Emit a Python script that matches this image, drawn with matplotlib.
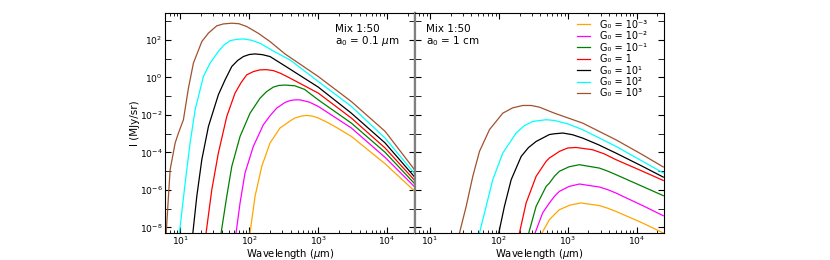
import numpy as np
import matplotlib
matplotlib.use("Agg")
import matplotlib.pyplot as plt
from matplotlib.ticker import LogLocator, NullFormatter

# values, as log10(wavelength / um) and log10(I / MJy/sr)
labels = ["G₀ = 10⁻³", "G₀ = 10⁻²", "G₀ = 10⁻¹", "G₀ = 1",
          "G₀ = 10¹", "G₀ = 10²", "G₀ = 10³"]
colors = ["orange", "magenta", "green", "red", "black", "cyan", "sienna"]

# left panel: a0 = 0.1 um
small_lam = [
    [2.01, 2.082, 2.18, 2.30, 2.445, 2.517, 2.59, 2.66, 2.75, 2.83, 2.92, 3.0, 3.12, 3.24, 3.48, 3.97, 4.39],
    [1.807, 1.865, 1.937, 2.058, 2.203, 2.30, 2.397, 2.517, 2.59, 2.66, 2.735, 2.87, 3.0, 3.48, 3.97, 4.39],
    [1.59, 1.672, 1.745, 1.865, 2.01, 2.155, 2.25, 2.348, 2.43, 2.517, 2.66, 2.80, 3.0, 3.48, 3.97, 4.39],
    [1.372, 1.455, 1.55, 1.672, 1.792, 1.88, 1.962, 2.06, 2.155, 2.25, 2.348, 2.45, 2.59, 3.0, 3.48, 3.97, 4.39],
    [1.18, 1.237, 1.31, 1.406, 1.55, 1.648, 1.745, 1.83, 1.913, 2.0, 2.082, 2.19, 2.30, 2.517, 3.0, 3.48, 3.97, 4.39],
    [0.985, 1.068, 1.14, 1.213, 1.333, 1.43, 1.55, 1.63, 1.72, 1.82, 1.913, 2.03, 2.155, 2.35, 2.59, 3.0, 3.48, 3.97, 4.39],
    [0.793, 0.85, 0.923, 0.971, 1.043, 1.116, 1.188, 1.31, 1.406, 1.527, 1.623, 1.745, 1.85, 1.962, 2.13, 2.30, 2.517, 3.0, 3.48, 3.97, 4.39],
]
small_int = [
    [-8.3, -6.35, -4.75, -3.50, -2.70, -2.52, -2.33, -2.17, -2.07, -2.03, -2.07, -2.17, -2.38, -2.62, -3.15, -4.61, -6.04],
    [-8.3, -6.70, -5.10, -3.68, -2.53, -2.05, -1.64, -1.34, -1.24, -1.20, -1.20, -1.32, -1.55, -2.70, -4.27, -5.81],
    [-8.3, -6.35, -4.75, -3.15, -1.91, -1.11, -0.76, -0.52, -0.43, -0.41, -0.45, -0.64, -1.20, -2.44, -4.00, -5.64],
    [-8.3, -5.99, -4.04, -2.09, -0.84, -0.28, 0.135, 0.31, 0.40, 0.41, 0.36, 0.22, -0.04, -0.84, -2.17, -3.77, -5.46],
    [-8.3, -6.35, -4.39, -2.62, -0.93, -0.13, 0.58, 0.90, 1.11, 1.22, 1.25, 1.21, 1.11, 0.61, -0.52, -1.91, -3.50, -5.28],
    [-8.3, -5.64, -3.50, -1.73, 0.045, 0.76, 1.38, 1.72, 1.96, 2.03, 2.05, 1.98, 1.82, 1.40, 0.93, -0.22, -1.55, -3.24, -5.10],
    [-8.3, -4.93, -3.50, -2.97, -2.26, -0.57, 0.76, 1.91, 2.36, 2.75, 2.85, 2.89, 2.86, 2.71, 2.35, 1.91, 1.25, 0.045, -1.29, -2.88, -4.89],
]

# right panel: a0 = 1 cm
big_lam = [
    [2.628, 2.735, 2.807, 2.88, 3.03, 3.19, 3.46, 3.58, 3.70, 4.087, 4.387],
    [2.527, 2.637, 2.735, 2.807, 2.88, 3.02, 3.17, 3.46, 3.58, 3.70, 4.087, 4.387],
    [2.435, 2.542, 2.687, 2.735, 2.807, 2.88, 3.02, 3.17, 3.46, 3.58, 3.70, 4.087, 4.387],
    [2.30, 2.397, 2.542, 2.687, 2.735, 2.807, 2.88, 3.0, 3.12, 3.36, 3.53, 3.70, 4.087, 4.387],
    [2.0, 2.082, 2.18, 2.325, 2.43, 2.542, 2.735, 2.807, 2.93, 3.07, 3.217, 3.45, 3.70, 4.087, 4.387],
    [1.72, 1.817, 1.913, 2.058, 2.252, 2.37, 2.493, 2.687, 2.807, 3.0, 3.217, 3.70, 4.087, 4.387],
    [1.43, 1.527, 1.623, 1.72, 1.865, 2.058, 2.2, 2.348, 2.47, 2.59, 2.807, 3.217, 3.70, 4.087, 4.387],
]
big_int = [
    [-8.3, -7.59, -7.32, -7.06, -6.82, -6.70, -6.84, -6.98, -7.15, -7.77, -8.30],
    [-8.3, -7.23, -6.70, -6.35, -6.08, -5.82, -5.69, -5.85, -5.99, -6.17, -6.84, -7.38],
    [-8.3, -6.88, -5.82, -5.64, -5.28, -5.01, -4.77, -4.66, -4.84, -5.00, -5.19, -5.82, -6.31],
    [-8.3, -6.70, -5.28, -4.48, -4.30, -4.13, -3.95, -3.77, -3.74, -3.86, -4.08, -4.39, -5.01, -5.50],
    [-8.3, -6.88, -5.46, -4.22, -3.75, -3.42, -3.05, -3.01, -2.97, -3.06, -3.24, -3.60, -4.04, -4.75, -5.32],
    [-8.3, -6.88, -5.46, -4.04, -2.97, -2.58, -2.35, -2.26, -2.30, -2.48, -2.79, -3.68, -4.48, -5.10],
    [-8.3, -6.88, -5.28, -3.95, -2.79, -1.91, -1.63, -1.50, -1.50, -1.59, -1.91, -2.44, -3.33, -4.13, -4.78],
]

plt.rcParams["font.family"] = "DejaVu Sans"
plt.rcParams["font.size"] = 7
plt.rcParams["mathtext.fontset"] = "dejavusans"

fig, (ax1, ax2) = plt.subplots(1, 2, figsize=(8.3, 2.6), dpi=100, sharey=True)
fig.subplots_adjust(left=0.199, right=0.8, bottom=0.104, top=0.951, wspace=0)

for ax, lams, ints in [(ax1, small_lam, small_int), (ax2, big_lam, big_int)]:
    for lam, inten, c, lab in zip(lams, ints, colors, labels):
        ax.plot(10 ** np.array(lam), 10 ** np.array(inten), color=c, lw=0.9, label=lab)
    ax.set_xscale("log")
    ax.set_yscale("log")
    ax.set_xlabel(r"Wavelength ($\mu$m)", fontsize=7.2)
    ax.xaxis.set_label_coords(0.5, -0.066)
    ax.tick_params(which="both", direction="in", top=True, right=True, labelsize=6.6, pad=1)
    ax.tick_params(which="major", length=4)
    ax.tick_params(which="minor", length=2)
    ax.set_yticks([10.0 ** k for k in range(-8, 3, 2)])
    ax.set_yticks([10.0 ** k for k in range(-9, 4, 2)], minor=True)
    ax.yaxis.set_minor_formatter(NullFormatter())
    ax.tick_params(axis="y", which="minor", length=4)
    ax.tick_params(axis="y", which="both", pad=2)
    ax.xaxis.set_major_locator(LogLocator(base=10))
    ax.xaxis.set_minor_locator(LogLocator(base=10, subs=np.arange(2, 10)))
    ax.xaxis.set_minor_formatter(NullFormatter())
    ax.set_xlim(6, 2.5e4)
    ax.set_ylim(5e-9, 2.8e3)

ax1.spines["right"].set_color("0.5")
ax1.spines["right"].set_linewidth(1.6)
ax2.spines["left"].set_color("0.5")
ax2.spines["left"].set_linewidth(1.6)

ax1.set_ylabel("I (MJy/sr)", fontsize=7.5)
ax1.yaxis.set_label_coords(-0.1, 0.5)
ax1.text(0.68, 0.95, "Mix 1:50\n" + r"a$_0$ = 0.1 $\mu$m", transform=ax1.transAxes,
         va="top", ha="left", fontsize=7.5, linespacing=1.0)
ax2.text(0.045, 0.95, "Mix 1:50\n" + r"a$_0$ = 1 cm", transform=ax2.transAxes,
         va="top", ha="left", fontsize=7.5, linespacing=1.0)
ax2.legend(loc="upper right", bbox_to_anchor=(0.948, 0.986), frameon=False, fontsize=7,
           handlelength=1.35, handletextpad=1.0, labelspacing=0.15, borderaxespad=0)

plt.savefig("out.png")
